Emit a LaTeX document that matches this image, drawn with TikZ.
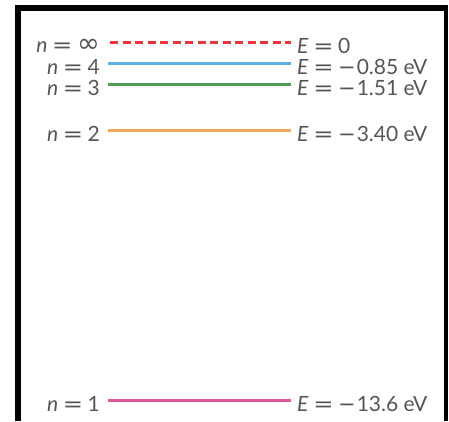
\documentclass[tikz,border=0pt]{standalone}
\usepackage{fontspec}
\setmainfont{Lato}
\newfontfamily\symf{DejaVu Sans}
\newcommand{\eqs}{\hspace{0.22em}{\symf\scalebox{1.15}[1]{=}}\hspace{0.22em}}
\newcommand{\mns}{{\symf −}\hspace{0.05em}}
\newcommand{\infs}{{\symf\scalebox{1.3}{∞}}}
\definecolor{txtgray}{HTML}{555555}
\definecolor{lvred}{HTML}{E8383D}
\definecolor{lvblue}{HTML}{5BB0DE}
\definecolor{lvgreen}{HTML}{4E9C56}
\definecolor{lvorange}{HTML}{F2A65A}
\definecolor{lvpink}{HTML}{E0559A}
\tikzset{
  lbl/.style={inner sep=0pt, text=txtgray, font=\fontsize{21}{23}\selectfont},
  nlbl/.style={lbl, anchor=east},
  elbl/.style={lbl, anchor=west},
  level/.style={line width=3pt},
  frame/.style={black, line cap=butt}
}
\begin{document}
\begin{tikzpicture}[x=1pt,y=-1pt]
\useasboundingbox (0,0) rectangle (449,421);
% frame
\draw[frame, line width=6pt] (18,421) -- (18,5);
\draw[frame, line width=6pt] (15,8) -- (448,8);
\draw[frame, line width=4pt] (446,5) -- (446,421);
% levels
\foreach \nm/\y in {inf/42, four/63, three/84, two/130, one/400}{
  \coordinate (\nm s) at (108,\y);
  \coordinate (\nm e) at (291,\y);
}
\node[nlbl] (ninf) at (100,46) {\textit{n}\eqs\infs};
\node[nlbl] (nfour) at (100,67) {\textit{n}\eqs 4};
\node[nlbl] (nthree) at (100,88) {\textit{n}\eqs 3};
\node[nlbl] (ntwo) at (100,134) {\textit{n}\eqs 2};
\node[nlbl] (none) at (100,404) {\textit{n}\eqs 1};
\node[elbl] (einf) at (297,46) {\textit{E}\eqs 0};
\node[elbl] (efour) at (297,67) {\textit{E}\eqs\mns 0.85 eV};
\node[elbl] (ethree) at (297,88) {\textit{E}\eqs\mns 1.51 eV};
\node[elbl] (etwo) at (297,134) {\textit{E}\eqs\mns 3.40 eV};
\node[elbl] (eone) at (297,404) {\textit{E}\eqs\mns 13.6 eV};
\draw[level, lvred, dash pattern=on 8pt off 4.5pt] (infs) ++(2,0) -- (infe);
\draw[level, lvblue] (fours) -- (foure);
\draw[level, lvgreen] (threes) -- (threee);
\draw[level, lvorange] (twos) -- (twoe);
\draw[level, lvpink] (ones) -- (onee);
\end{tikzpicture}
\end{document}
